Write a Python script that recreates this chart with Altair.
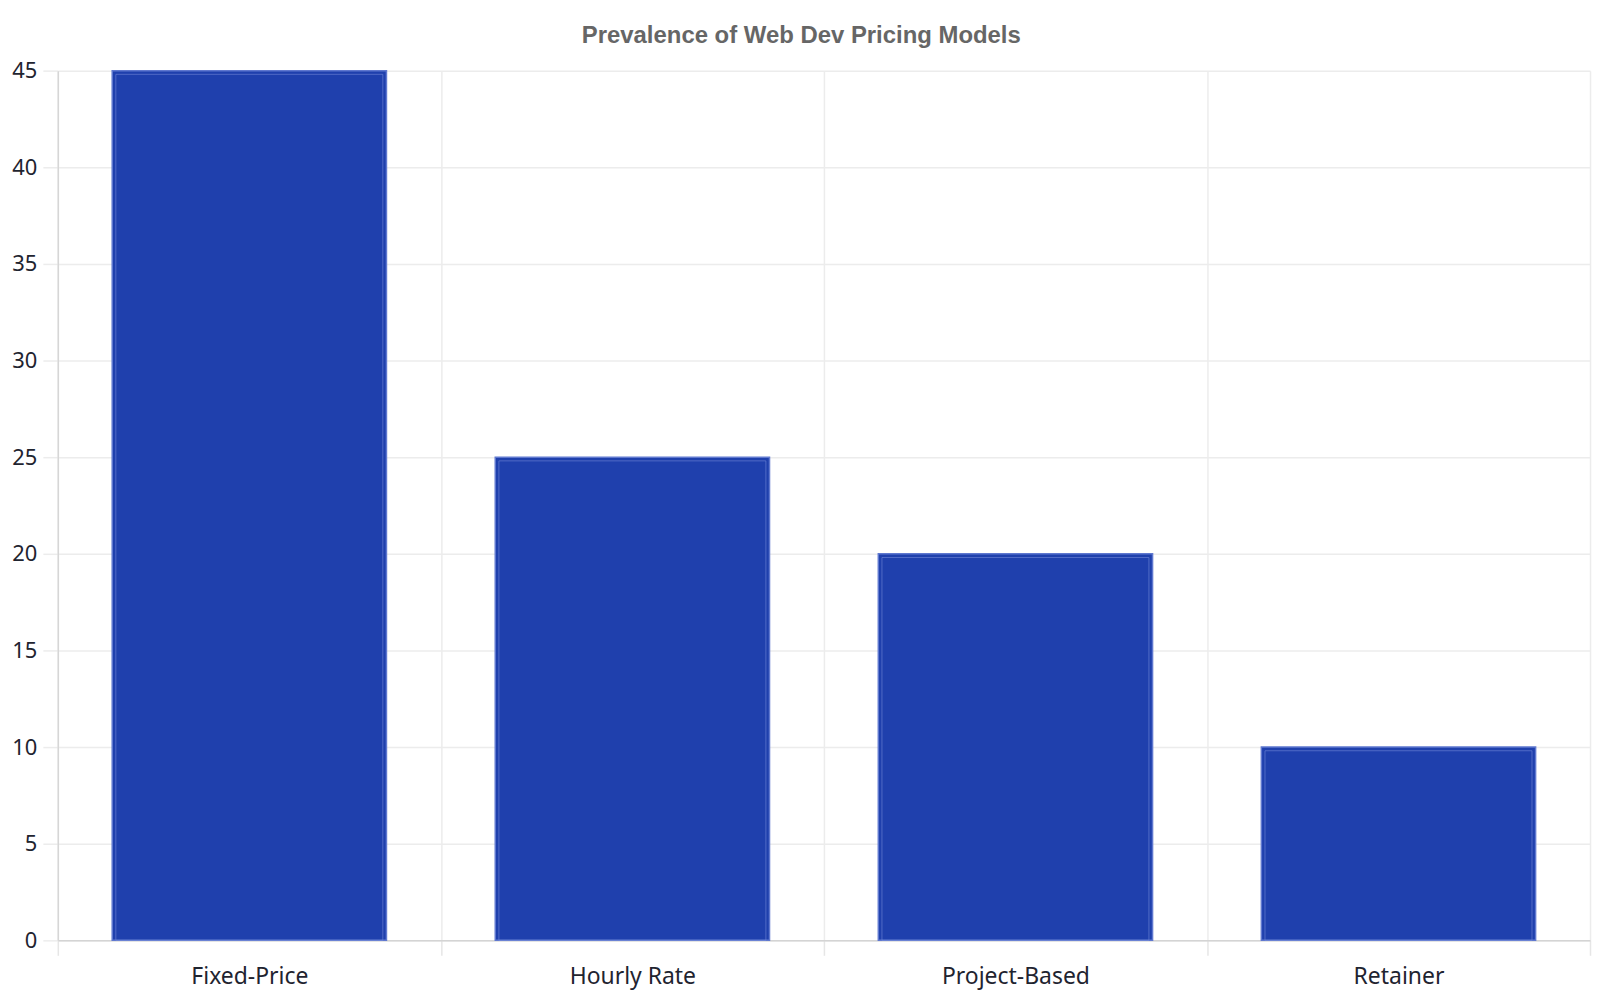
import altair as alt
import pandas as pd

categories = ["Fixed-Price", "Hourly Rate", "Project-Based", "Retainer"]
values = [45, 25, 20, 10]
y_ticks = [0, 5, 10, 15, 20, 25, 30, 35, 40, 45]

df = pd.DataFrame({"model": categories, "value": values})

FONT = "Noto Sans"
W, H = 1538, 873

x = alt.X(
    "model:N",
    sort=categories,
    scale=alt.Scale(paddingInner=0, paddingOuter=0),
    axis=alt.Axis(
        title=None,
        bandPosition=0,
        grid=True,
        gridColor="#ececec",
        gridWidth=1.5,
        ticks=True,
        tickColor="#e6e6e6",
        tickWidth=1.5,
        tickSize=15,
        tickBand="extent",
        domain=True,
        domainColor="#d4d4d4",
        domainWidth=1.5,
        labelAngle=0,
        labelFont=FONT,
        labelFontSize=23,
        labelColor="#1f2430",
        labelPadding=10,
    ),
)

y = alt.Y(
    "value:Q",
    scale=alt.Scale(domain=[0, 45], nice=False),
    axis=alt.Axis(
        title=None,
        values=y_ticks,
        grid=True,
        gridColor="#ececec",
        gridWidth=1.5,
        ticks=True,
        tickColor="#ececec",
        tickWidth=1.5,
        tickSize=15,
        domain=True,
        domainColor="#d6d6d6",
        domainWidth=1.5,
        labelFont=FONT,
        labelFontSize=22,
        labelColor="#1f2430",
        labelPadding=6,
    ),
)

bars = alt.Chart(df).mark_bar(
    width=alt.RelativeBandSize(0.716),
    color="#1f40ad",
    stroke="#5f78cf",
    strokeWidth=1.5,
).encode(x=x, y=y)

inner = alt.Chart(df).mark_bar(
    width=alt.RelativeBandSize(0.697),
    fill=None,
    fillOpacity=0,
    stroke="#7a90dc",
    strokeOpacity=0.55,
    strokeWidth=1,
    yOffset=3.7,
    y2Offset=0,
).encode(x=x, y=y, y2=alt.datum(0))

chart = (
    alt.layer(bars, inner)
    .properties(
        width=W,
        height=H,
        title=alt.TitleParams(
            "Prevalence of Web Dev Pricing Models",
            font="Liberation Sans",
            fontSize=24,
            fontWeight="bold",
            color="#666666",
            anchor="middle",
            frame="bounds",
            offset=12,
        ),
        autosize=alt.AutoSizeParams(type="none"),
        padding={"left": 50, "top": 61, "right": 2, "bottom": 58},
    )
    .configure_view(stroke=None)
)

chart.save("out.html", embed_options={"renderer": "svg", "actions": False})
